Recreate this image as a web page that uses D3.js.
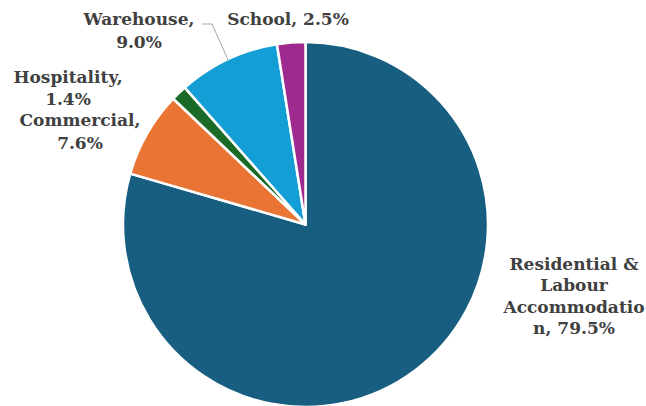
<!DOCTYPE html>
<html>
<head>
<meta charset="utf-8">
<script src="https://cdn.jsdelivr.net/npm/d3@7"></script>
<style>
  body { margin: 0; background: #fff; }
  text { font-family: "DejaVu Serif", Georgia, serif; font-weight: bold; fill: #404040; }
</style>
</head>
<body>
<div id="pie_chart"></div>
<script>
// categories and shares (%), clockwise from 12 o'clock
var categories = ["Residential & Labour Accommodation", "Commercial", "Hospitality", "Warehouse", "School"];
var shares = [79.5, 7.6, 1.4, 9.0, 2.5];
var colors = ["#175e80", "#ea7434", "#1a6a28", "#139fd6", "#9f2a8f"];

// label lines as they wrap in the picture
var labelLines = [
    ["Residential &", "Labour", "Accommodatio", "n, 79.5%"],
    ["Commercial,", "7.6%"],
    ["Hospitality,", "1.4%"],
    ["Warehouse,", "9.0%"],
    ["School, 2.5%"]
];
// label anchor: centre x, baseline of first line, line step
var labelPos = [[574, 270, 21.3], [80, 126, 23], [68, 83, 22], [139, 25, 23], [288, 25, 0]];

var width = 646, height = 406;
var cx = 305.5, cy = 224.5, radius = 182.5;

var svg = d3.select("#pie_chart")
    .append("svg")
    .attr("width", width)
    .attr("height", height);

var g = svg.append("g")
    .attr("transform", "translate(" + cx + "," + cy + ")");

var data = categories.map(function (c, i) { return { name: c, value: shares[i], i: i }; });

var pie = d3.pie()
    .value(function (d) { return d.value; })
    .sort(null);

var arc = d3.arc()
    .innerRadius(0)
    .outerRadius(radius);

g.selectAll("path")
    .data(pie(data))
    .enter()
    .append("path")
    .attr("d", arc)
    .attr("fill", function (d) { return colors[d.data.i]; })
    .attr("stroke", "#fff")
    .attr("stroke-width", 2.5)
    .attr("stroke-linejoin", "round");

// leader line for Warehouse, ends at the middle of its slice edge
var whArc = pie(data)[3];
var whAng = (whArc.startAngle + whArc.endAngle) / 2;
var edge = [cx + Math.sin(whAng) * radius * 0.99, cy - Math.cos(whAng) * radius * 0.99];
svg.append("polyline")
    .attr("points", [[202, 24], [212, 24], edge].map(function (p) { return p.join(","); }).join(" "))
    .attr("fill", "none")
    .attr("stroke", "#a6a6a6")
    .attr("stroke-width", 1);

labelLines.forEach(function (lines, i) {
    var t = svg.append("text")
        .attr("text-anchor", "middle")
        .attr("font-size", 17);
    lines.forEach(function (l, k) {
        t.append("tspan")
            .attr("x", labelPos[i][0])
            .attr("y", labelPos[i][1] + k * labelPos[i][2])
            .text(l);
    });
});
</script>
</body>
</html>
